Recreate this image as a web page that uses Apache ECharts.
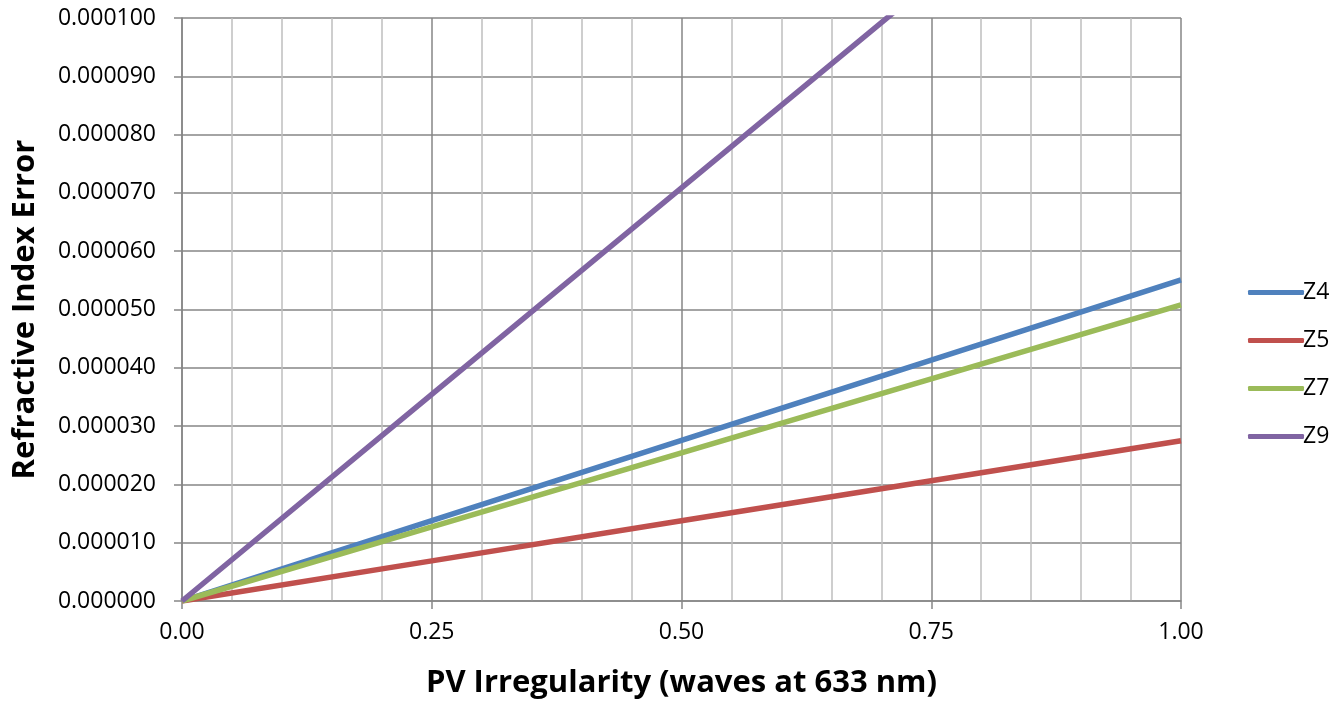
<!DOCTYPE html>
<html><head><meta charset="utf-8">
<script src="https://cdn.jsdelivr.net/npm/echarts@6/dist/echarts.min.js"></script>
<style>html,body{margin:0;padding:0;background:#fff}#c{width:1334px;height:704px}</style>
</head><body><div id="c"></div>
<script>
const xValues = [0, 0.25, 0.5, 0.75, 1.0];
const seriesNames = ['Z4', 'Z5', 'Z7', 'Z9'];
const z4 = [0, 0.00001378, 0.00002755, 0.00004133, 0.0000551];
const z5 = [0, 0.00000688, 0.00001375, 0.00002063, 0.0000275];
const z7 = [0, 0.0000127, 0.0000254, 0.0000381, 0.0000508];
const z9 = [0, 0.00003543, 0.00007085, 0.00010628, 0.0001417];
const colors = ['#4F81BD', '#C0504D', '#9BBB59', '#8064A2'];
const xTitle = 'PV Irregularity (waves at 633 nm)';
const yTitle = 'Refractive Index Error';

const font = 'Open Sans';
const allData = [z4, z5, z7, z9];
const chart = echarts.init(document.getElementById('c'));
chart.setOption({
  animation: false,
  grid: { left: 182, right: 153, top: 18, bottom: 103 },
  legend: {
    orient: 'vertical', left: 1243, top: 276,
    icon: 'roundRect', itemWidth: 56, itemHeight: 5, itemGap: 25,
    textStyle: { fontFamily: font, fontSize: 23, color: '#000', padding: [0,0,0,-6] },
    data: seriesNames
  },
  xAxis: {
    type: 'value', min: 0, max: 1, interval: 0.25,
    name: xTitle, nameLocation: 'middle', nameGap: 67,
    nameTextStyle: { fontFamily: font, fontSize: 31, fontWeight: 'bold', color: '#000' },
    axisLine: { show: true, lineStyle: { color: '#868686', width: 1.5 } },
    axisTick: { show: true, length: 8, lineStyle: { color: '#868686', width: 1.5 } },
    axisLabel: { fontFamily: font, fontSize: 23, color: '#000', margin: 20,
      formatter: v => v.toFixed(2) },
    splitLine: { show: true, lineStyle: { color: '#868686', width: 1.5 } },
    minorTick: { show: false, splitNumber: 5 },
    minorSplitLine: { show: true, lineStyle: { color: '#bfbfbf', width: 1.5 } }
  },
  yAxis: {
    type: 'value', min: 0, max: 0.0001, interval: 0.00001,
    name: yTitle, nameLocation: 'middle', nameGap: 141,
    nameTextStyle: { fontFamily: font, fontSize: 31, fontWeight: 'bold', color: '#000' },
    axisLine: { show: true, lineStyle: { color: '#868686', width: 1.5 } },
    axisTick: { show: true, length: 8, lineStyle: { color: '#868686', width: 1.5 } },
    axisLabel: { fontFamily: font, fontSize: 23, color: '#000', margin: 26,
      formatter: v => v.toFixed(6) },
    splitLine: { show: true, lineStyle: { color: '#868686', width: 1.5 } }
  },
  series: seriesNames.map((n, i) => ({
    name: n, type: 'line', symbol: 'none', clip: true,
    data: xValues.map((x, j) => [x, allData[i][j]]),
    lineStyle: { color: colors[i], width: 5.5 },
    itemStyle: { color: colors[i] }
  }))
});
</script></body></html>
